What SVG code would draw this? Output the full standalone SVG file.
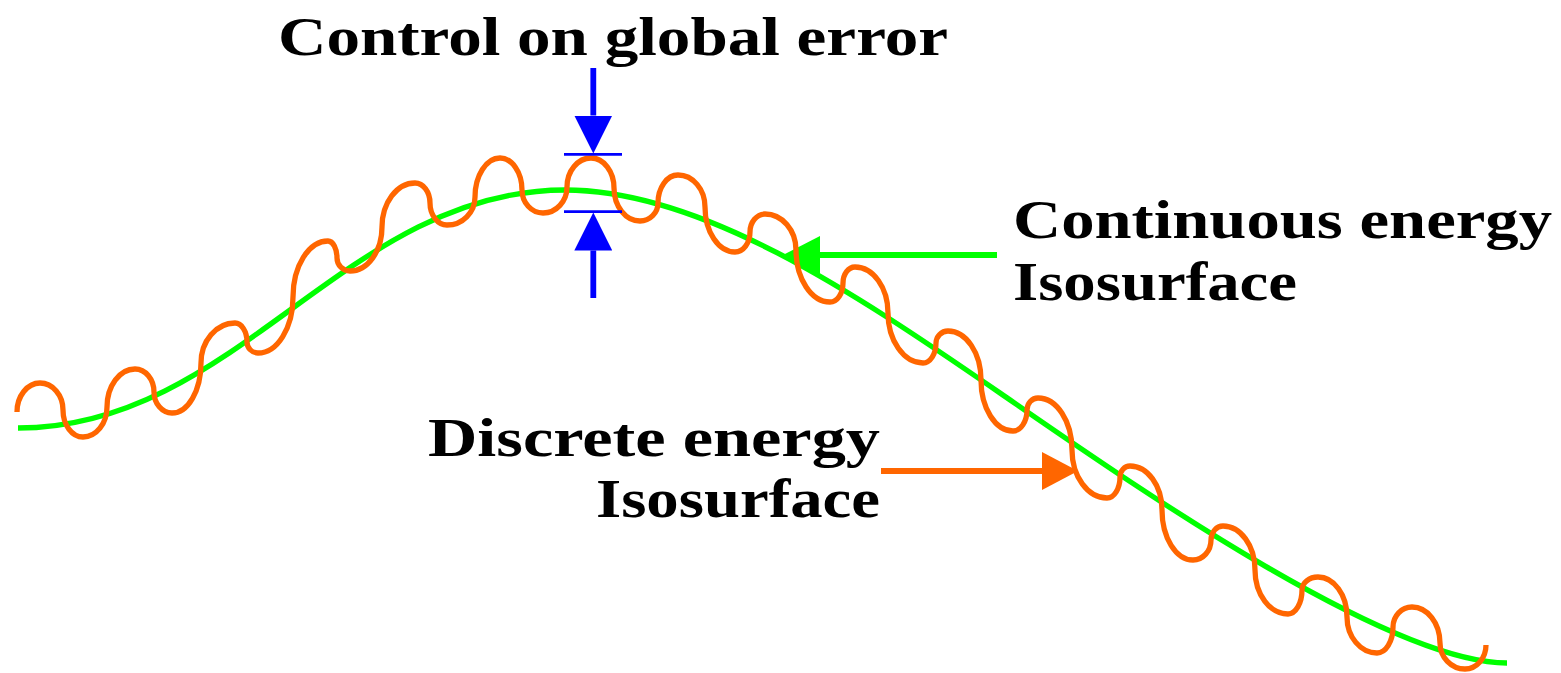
<svg xmlns="http://www.w3.org/2000/svg" width="1561" height="673" viewBox="0 0 1561 673">
<style>
.curve{fill:none;stroke-width:5.3;stroke-linejoin:round}
.shaft{fill:none;stroke-width:5.8}
.tick{fill:none;stroke:#0000ff;stroke-width:2.8}
.lbl{font-family:"Liberation Serif","Times New Roman",serif;font-weight:bold;font-size:55px;fill:#000}
</style>
<defs>
<marker id="ahGreen" viewBox="0 0 38 38" refX="0" refY="19" markerWidth="38" markerHeight="38" markerUnits="userSpaceOnUse" orient="auto"><path d="M0,0 L37,19 L0,38 Z" fill="#00ff00"/></marker>
<marker id="ahOrange" viewBox="0 0 38 38" refX="0" refY="19" markerWidth="38" markerHeight="38" markerUnits="userSpaceOnUse" orient="auto"><path d="M0,0 L36,19 L0,38 Z" fill="#ff6600"/></marker>
<marker id="ahBlue" viewBox="0 0 38 38" refX="0" refY="19" markerWidth="38" markerHeight="38" markerUnits="userSpaceOnUse" orient="auto"><path d="M0,0 L38,19 L0,38 Z" fill="#0000ff"/></marker>
</defs>
<rect width="1561" height="673" fill="#fff"/>
<g id="continuous-curve">
<path class="curve" stroke="#00ff00" d="M18,428 C237,428 346,190 565,190 C700,190 850,289.5 1000,393 C1120,475.7 1386,663 1507,663"/>
</g>
<g id="connectors">
<line class="shaft" stroke="#00ff00" x1="997" y1="255" x2="820" y2="255" marker-end="url(#ahGreen)"/>
<line class="shaft" stroke="#ff6600" x1="881" y1="471" x2="1042" y2="471" marker-end="url(#ahOrange)"/>
<line class="shaft" stroke="#0000ff" x1="593.3" y1="68" x2="593.3" y2="115.5" marker-end="url(#ahBlue)"/>
<line class="shaft" stroke="#0000ff" x1="593.3" y1="298" x2="593.3" y2="250.5" marker-end="url(#ahBlue)"/>
</g>
<g id="discrete-curve">
<path class="curve" stroke="#ff6600" d="M17,412 C17,396 27.4,383 40,383 C52.7,383 63,395.2 63,410 C63,424.9 72,437 83,437 C96.2,437 107,423.5 107,407 C107,386.1 119.6,369 135,369 C145.5,369 154,379.4 154,392 C154,403.6 162.1,413 172,413 C188,413 201,390.5 201,363 C201,341 216.3,323 235,323 C241.6,323 247,331.5 247,342 C247,348 252,353 258,353 C277.3,353 293,327.8 293,297 C293,266.2 308.8,241 328,241 C333,241 337,248.7 337,258 C337,265.2 342.9,271 350,271 C367.6,271 382,251.2 382,227 C382,202.8 396.9,183 415,183 C423.3,183 430,192 430,203 C430,215.1 437.7,225 447,225 C462.4,225 475,212.4 475,197 C475,175.6 486.3,158 500,158 C512.1,158 522,172.4 522,190 C522,202.7 531.5,213 543,213 C556.2,213 567,201.3 567,187 C567,171 577.8,158 591,158 C603.7,158 614,171.5 614,188 C614,206.2 625.7,221 640,221 C649.9,221 658,212.9 658,203 C658,187.6 667,175 678,175 C692.9,175 705,189.4 705,207 C705,231.8 718.5,252 735,252 C743.3,252 750,243 750,232 C750,222.1 756.8,214 765,214 C782,214 796,230.2 796,250 C796,278.6 811.3,302 830,302 C837.2,302 843,293.5 843,283 C843,274.2 848.4,267 855,267 C873.2,267 888,287.7 888,313 C888,340.5 903.8,363 923,363 C930.2,363 936,354 936,343 C936,336.4 941.4,331 948,331 C966.2,331 981,353 981,380 C981,408 995.4,431 1013,431 C1020.7,431 1027,421.6 1027,410 C1027,403.4 1032,398 1038,398 C1056.7,398 1072,421.4 1072,450 C1072,476.4 1087.8,498 1107,498 C1114.2,498 1120,488.6 1120,477 C1120,471 1124.5,466 1130,466 C1147.6,466 1162,485.8 1162,510 C1162,537.5 1176,560 1193,560 C1202.9,560 1211,551 1211,540 C1211,532.3 1216.4,526 1223,526 C1240.6,526 1255,545.8 1255,570 C1255,594.2 1269.9,614 1288,614 C1295.7,614 1302,603.2 1302,590 C1302,582.9 1309.2,577 1318,577 C1334,577 1347,595 1347,617 C1347,636.8 1360.5,653 1377,653 C1385.8,653 1393,641.3 1393,627 C1393,616 1401.6,607 1412,607 C1427.4,607 1440,623.2 1440,643 C1440,657.3 1451.3,669 1465,669 C1476.6,669 1486,658.2 1486,645"/>
</g>
<g id="error-bounds">
<line class="tick" x1="564" y1="154.3" x2="622" y2="154.3"/>
<line class="tick" x1="564" y1="211.7" x2="622" y2="211.7"/>
</g>
<g id="label-control">
<text class="lbl" x="278" y="55" textLength="670" lengthAdjust="spacingAndGlyphs">Control on global error</text>
</g>
<g id="label-continuous">
<text class="lbl" x="1013" y="238" textLength="539" lengthAdjust="spacingAndGlyphs">Continuous energy</text>
<text class="lbl" x="1013" y="300" textLength="284" lengthAdjust="spacingAndGlyphs">Isosurface</text>
</g>
<g id="label-discrete">
<text class="lbl" x="428" y="456" textLength="452" lengthAdjust="spacingAndGlyphs">Discrete energy</text>
<text class="lbl" x="596" y="517" textLength="284" lengthAdjust="spacingAndGlyphs">Isosurface</text>
</g>
</svg>
